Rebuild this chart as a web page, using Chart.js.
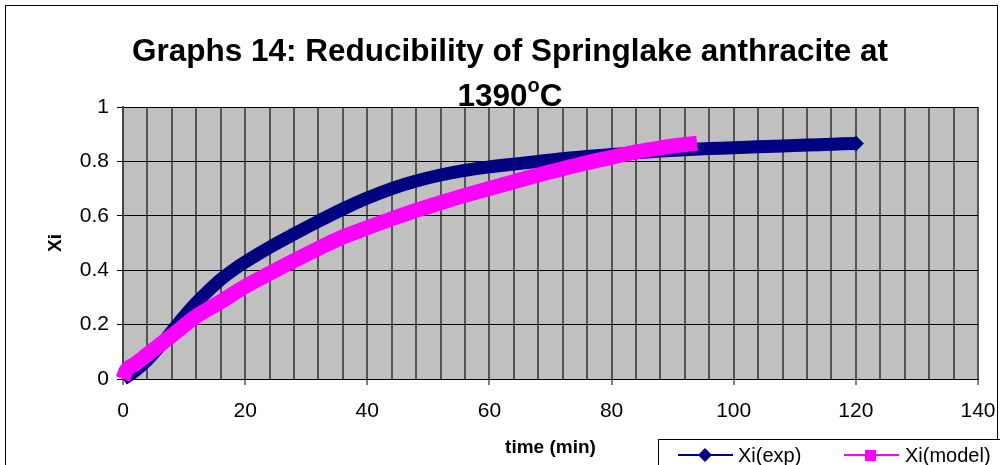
<!DOCTYPE html>
<html>
<head>
<meta charset="utf-8">
<script src="https://cdn.jsdelivr.net/npm/chart.js"></script>
<style>
  html, body { margin: 0; padding: 0; background: #fff; }
  #wrap { width: 1000px; height: 465px; position: relative; }
</style>
</head>
<body>
<div id="wrap"><canvas id="myChart"></canvas></div>
<script>
// time (min) and Xi values
const expTime = [0, 2, 4, 6, 8, 10, 12, 14, 16, 18, 20, 24, 28, 32, 36, 40, 44, 48, 52, 56, 60,
  64, 68, 72, 76, 80, 84, 88, 92, 96, 100, 104, 108, 112, 116, 120];
const expXi = [0, 0.03, 0.07, 0.12, 0.175, 0.23, 0.28, 0.325, 0.366, 0.40, 0.43, 0.484, 0.533, 0.58, 0.625, 0.665, 0.70, 0.728, 0.75, 0.767, 0.78,
  0.79, 0.80, 0.81, 0.818, 0.825, 0.832, 0.838, 0.843, 0.847, 0.85, 0.854, 0.857, 0.86, 0.863, 0.866];

const modelTime = [0, 0.5, 2, 4, 8, 12, 16, 20, 24, 28, 32, 36, 40, 44, 48, 52, 56, 60, 64, 68, 72, 76, 80, 84, 88, 92, 94];
const modelXi = [0, 0.03, 0.055, 0.09, 0.16, 0.23, 0.284, 0.34, 0.388, 0.435, 0.48, 0.522, 0.556, 0.589, 0.62, 0.648, 0.675, 0.70, 0.725, 0.75, 0.773, 0.795, 0.815, 0.835, 0.85, 0.862, 0.867];

const xTickLabels = [0, 20, 40, 60, 80, 100, 120, 140];
const yTickLabels = [0, 0.2, 0.4, 0.6, 0.8, 1];

const FONT = 'Liberation Sans, Arial, sans-serif';

const frame = {
  id: 'frame',
  beforeDraw(chart) {
    const { ctx, chartArea } = chart;
    ctx.save();
    ctx.fillStyle = '#fff';
    ctx.fillRect(0, 0, chart.width, chart.height);
    ctx.strokeStyle = '#000';
    ctx.lineWidth = 1;
    ctx.strokeRect(5.5, 5.5, 992, 500);
    ctx.fillStyle = '#c0c0c0';
    ctx.fillRect(chartArea.left, chartArea.top, chartArea.right - chartArea.left, chartArea.bottom - chartArea.top);
    ctx.restore();
  },
  afterDraw(chart) {
    const ctx = chart.ctx;
    ctx.save();
    // title
    ctx.fillStyle = '#000';
    ctx.textBaseline = 'alphabetic';
    ctx.textAlign = 'center';
    ctx.font = 'bold 31.5px ' + FONT;
    ctx.fillText('Graphs 14: Reducibility of Springlake anthracite at', 510, 61);
    const a = '1390', c = 'C';
    const wa = ctx.measureText(a).width, wc = ctx.measureText(c).width;
    ctx.font = 'bold 20px ' + FONT;
    const wo = ctx.measureText('o').width;
    let x = 510 - (wa + wo + wc) / 2;
    ctx.textAlign = 'left';
    ctx.font = 'bold 31.5px ' + FONT;
    ctx.fillText(a, x, 106);
    ctx.font = 'bold 20px ' + FONT;
    ctx.fillText('o', x + wa, 92);
    ctx.font = 'bold 31.5px ' + FONT;
    ctx.fillText(c, x + wa + wo, 106);

    // legend
    ctx.fillStyle = '#fff';
    ctx.fillRect(658.5, 439.5, 400, 40);
    ctx.strokeStyle = '#000';
    ctx.lineWidth = 1;
    ctx.strokeRect(658.5, 439.5, 400, 40);
    const ly = 455;
    ctx.lineWidth = 2;
    ctx.strokeStyle = '#000080';
    ctx.beginPath(); ctx.moveTo(678, ly); ctx.lineTo(733, ly); ctx.stroke();
    ctx.fillStyle = '#000080';
    ctx.beginPath();
    ctx.moveTo(705, ly - 7); ctx.lineTo(712, ly); ctx.lineTo(705, ly + 7); ctx.lineTo(698, ly);
    ctx.closePath(); ctx.fill();
    ctx.strokeStyle = '#ff00ff';
    ctx.beginPath(); ctx.moveTo(844, ly); ctx.lineTo(899, ly); ctx.stroke();
    ctx.fillStyle = '#ff00ff';
    ctx.fillRect(865, ly - 5, 11, 11);
    ctx.fillStyle = '#000';
    ctx.font = '20px ' + FONT;
    ctx.textBaseline = 'middle';
    ctx.fillText('Xi(exp)', 738, ly + 1);
    ctx.fillText('Xi(model)', 905, ly + 1);
    ctx.restore();
  }
};

const ctx = document.getElementById('myChart');

new Chart(ctx, {
  type: 'line',
  data: {
    datasets: [{
      label: 'Xi(exp)',
      data: expTime.map((t, i) => ({ x: t, y: expXi[i] })),
      borderColor: '#000080',
      backgroundColor: '#000080',
      borderWidth: 13,
      cubicInterpolationMode: 'monotone',
      pointStyle: 'rectRot',
      pointRadius: c => c.dataIndex === expTime.length - 1 ? 8 : 0,
      pointBorderWidth: 0,
      order: 1,
      clip: 12
    }, {
      label: 'Xi(model)',
      data: modelTime.map((t, i) => ({ x: t, y: modelXi[i] })),
      borderColor: '#ff00ff',
      backgroundColor: '#ff00ff',
      borderWidth: 15,
      borderCapStyle: 'butt',
      cubicInterpolationMode: 'monotone',
      pointRadius: 0,
      order: 0,
      clip: 12
    }]
  },
  options: {
    responsive: true,
    maintainAspectRatio: false,
    animation: false,
    events: [],
    layout: { padding: { left: 40, top: 107, right: 22, bottom: 0 } },
    plugins: {
      legend: { display: false },
      tooltip: { enabled: false }
    },
    scales: {
      x: {
        type: 'linear',
        min: 0,
        max: 140,
        afterFit: s => { s.height = 86; s.paddingLeft = 0; s.paddingRight = 0; },
        ticks: {
          stepSize: 4,
          autoSkip: false,
          maxRotation: 0,
          padding: 14,
          color: '#000',
          font: { family: FONT, size: 21 },
          callback: v => xTickLabels.includes(v) ? String(v) : ''
        },
        grid: {
          color: '#555',
          lineWidth: 2,
          tickLength: 6,
          tickWidth: 1,
          tickColor: c => (c.tick && c.tick.value % 20 === 0) ? '#000' : 'rgba(0,0,0,0)'
        },
        border: { color: '#000', width: 1 },
        title: {
          display: true,
          text: 'time (min)',
          color: '#000',
          font: { family: FONT, size: 19, weight: 'bold' },
          padding: { top: 0, bottom: 6 }
        }
      },
      y: {
        min: 0,
        max: 1,
        afterFit: s => { s.width = 83; s.paddingTop = 0; s.paddingBottom = 0; },
        ticks: {
          stepSize: 0.2,
          padding: 8,
          color: '#000',
          font: { family: FONT, size: 21 },
          callback: v => {
            const r = Math.round(v * 10) / 10;
            return yTickLabels.includes(r) ? String(r) : '';
          }
        },
        grid: { color: '#000', lineWidth: 1, tickLength: 6, tickColor: '#000' },
        border: { color: '#444', width: 2 },
        title: {
          display: true,
          text: 'Xi',
          color: '#000',
          font: { family: FONT, size: 19, weight: 'bold' },
          padding: { top: 4, bottom: 0 }
        }
      }
    }
  },
  plugins: [frame]
});
</script>
</body>
</html>
